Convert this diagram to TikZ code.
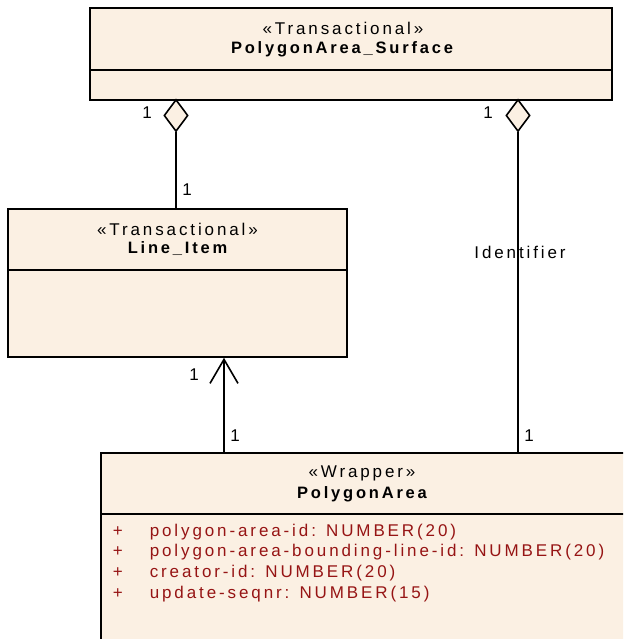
\documentclass[tikz,border=0pt]{standalone}
\usepackage{fontspec}
\setmainfont{Liberation Sans}
\newfontfamily\umlfont[LetterSpace=17]{Liberation Sans}
\usepackage{xcolor}
\usetikzlibrary{shapes.geometric,arrows.meta}
\definecolor{umlfill}{RGB}{251,240,227}
\definecolor{umlattr}{RGB}{150,20,20}

\begin{document}
\begin{tikzpicture}[x=1pt, y=-1pt, line width=1.6pt,
    classbox/.style={draw, fill=umlfill, rectangle, inner sep=0pt},
    agg/.style={diamond, draw, fill=umlfill, inner sep=0pt, minimum width=24pt, minimum height=32pt},
    stereo/.style={font=\umlfont\fontsize{17}{19}\selectfont, inner sep=0pt},
    cname/.style={font=\umlfont\fontsize{16.5}{18}\selectfont\bfseries, inner sep=0pt},
    attr/.style={font=\umlfont\fontsize{17}{19}\selectfont, text=umlattr, inner sep=0pt, anchor=west},
    mult/.style={font=\umlfont\fontsize{17}{19}\selectfont, inner sep=0pt},
]
    \clip (0,0) rectangle (623,639);

    % Classes
    \node[classbox, minimum width=522pt, minimum height=92pt] (surf) at (351,54) {};
    \draw (surf.west |- 0,70) -- (surf.east |- 0,70);
    \node[stereo] (surfst) at (343,28) {«Transactional»};
    \node[cname] (surfnm) at (342,49) {PolygonArea\_Surface};

    \node[classbox, minimum width=339pt, minimum height=148pt] (line) at (177.5,283) {};
    \draw (line.west |- 0,270) -- (line.east |- 0,270);
    \node[stereo] (linest) at (177.5,229) {«Transactional»};
    \node[cname] (linenm) at (177.5,249) {Line\_Item};

    \node[classbox, minimum width=539pt, minimum height=207pt] (wrap) at (370.5,556.5) {};
    \draw (wrap.west |- 0,514) -- (wrap.east |- 0,514);
    \node[stereo] (wrapst) at (362,473) {«Wrapper»};
    \node[cname] (wrapnm) at (362,494) {PolygonArea};

    % Attributes
    \foreach \y/\t [count=\i] in {532/polygon-area-id:  NUMBER(20),
                                 552/polygon-area-bounding-line-id:  NUMBER(20),
                                 573/creator-id:  NUMBER(20),
                                 594/update-seqnr:  NUMBER(15)} {
        \node[attr] (plus\i) at (112,\y) {+};
        \node[attr] (att\i) at (149,\y) {\t};
    }

    % Aggregations
    \node[agg] (dl) at (176,115.5) {};
    \draw (dl.south) -- (dl |- line.north);
    \node[agg] (dr) at (518,115.5) {};
    \draw (dr.south) -- (dr |- wrap.north);
    \node[stereo] (ident) at (520,252) {Identifier};

    % Association
    \draw[-{Straight Barb[length=24pt, width=28pt]}] (wrap.north -| 224,0) -- (line.south -| 224,0);

    % Multiplicities
    \node[mult] (m1) at (147,113) {1};
    \node[mult] (m2) at (187,190) {1};
    \node[mult] (m3) at (488,113) {1};
    \node[mult] (m4) at (194,375) {1};
    \node[mult] (m5) at (235,436) {1};
    \node[mult] (m6) at (529,436) {1};
\end{tikzpicture}
\end{document}
